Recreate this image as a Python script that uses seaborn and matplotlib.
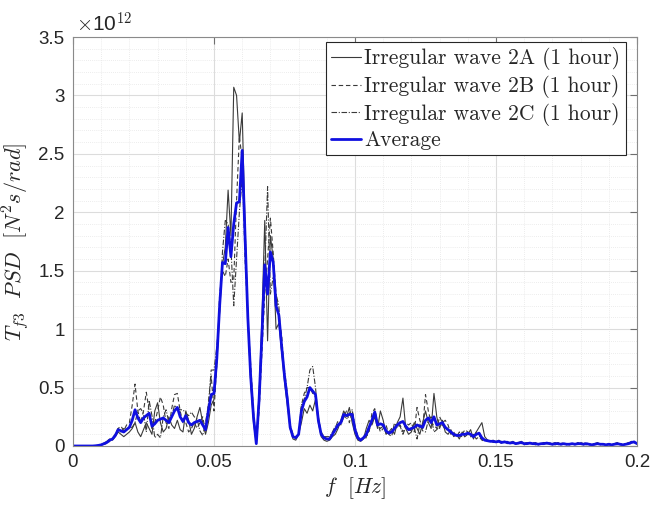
import numpy as np
import pandas as pd
import matplotlib
matplotlib.use("Agg")
import matplotlib.pyplot as plt
import seaborn as sns
from matplotlib.ticker import MultipleLocator, FuncFormatter

# frequency grid [Hz] (0.001 Hz resolution)
freq = np.round(np.arange(0, 0.2001, 0.001), 4)

# PSD values in units of 1e12 N^2 s/rad
wave_2a = [
    0, 0, 0, 0, 0, 0, 0, 0, 0.003, 0.006,
    0.012, 0.025, 0.04, 0.06, 0.05, 0.08, 0.12, 0.1, 0.08, 0.1,
    0.12, 0.15, 0.2, 0.12, 0.08, 0.14, 0.2, 0.15, 0.1, 0.3,
    0.37, 0.2, 0.12, 0.15, 0.25, 0.18, 0.15, 0.22, 0.14, 0.12,
    0.3, 0.22, 0.1, 0.15, 0.25, 0.33, 0.2, 0.1, 0.2, 0.35,
    0.4, 0.7, 1.15, 1.55, 1.7, 2.19, 1.8, 3.07, 3.0, 2.6,
    2.85, 1.9, 1.1, 0.55, 0.2, 0.02, 0.45, 1.1, 1.93, 0.9,
    1.8, 1.6, 1.0, 1.05, 0.8, 0.55, 0.35, 0.15, 0.06, 0.05,
    0.1, 0.2, 0.32, 0.28, 0.35, 0.3, 0.4, 0.2, 0.08, 0.05,
    0.04, 0.05, 0.08, 0.1, 0.15, 0.22, 0.3, 0.25, 0.33, 0.2,
    0.1, 0.05, 0.04, 0.06, 0.15, 0.22, 0.18, 0.25, 0.15, 0.3,
    0.22, 0.1, 0.12, 0.15, 0.1, 0.2, 0.25, 0.41, 0.15, 0.1,
    0.12, 0.2, 0.15, 0.1, 0.2, 0.3, 0.2, 0.15, 0.45, 0.25,
    0.15, 0.22, 0.12, 0.1, 0.14, 0.08, 0.1, 0.06, 0.12, 0.08,
    0.1, 0.14, 0.06, 0.12, 0.16, 0.2, 0.08, 0.05, 0.04, 0.05,
    0.03, 0.05, 0.03, 0.04, 0.02, 0.03, 0.04, 0.02, 0.03, 0.04,
    0.02, 0.03, 0.02, 0.02, 0.03, 0.01, 0.02, 0.03, 0.02, 0.02,
    0.01, 0.02, 0.03, 0.01, 0.02, 0.02, 0.01, 0.02, 0.01, 0.03,
    0.02, 0.01, 0.02, 0.02, 0.01, 0.02, 0.03, 0.01, 0.02, 0.01,
    0.02, 0.01, 0.02, 0.03, 0.01, 0.01, 0.02, 0.02, 0.04, 0.03,
    0.02,
]
wave_2b = [
    0, 0, 0, 0, 0, 0, 0, 0, 0.001, 0.004,
    0.008, 0.015, 0.02, 0.04, 0.07, 0.1, 0.15, 0.17, 0.13, 0.18,
    0.2, 0.35, 0.53, 0.3, 0.2, 0.3, 0.46, 0.3, 0.15, 0.2,
    0.3, 0.42, 0.35, 0.2, 0.15, 0.32, 0.44, 0.45, 0.3, 0.2,
    0.2, 0.12, 0.15, 0.2, 0.15, 0.2, 0.25, 0.12, 0.35, 0.6,
    0.3, 0.7, 1.3, 1.5, 1.45, 1.6, 1.4, 1.42, 2.1, 2.65,
    2.45, 1.6, 1.1, 0.7, 0.3, 0.03, 0.3, 0.8, 1.3, 1.6,
    1.95, 1.65, 1.3, 1.1, 0.95, 0.6, 0.4, 0.18, 0.1, 0.08,
    0.1, 0.35, 0.45, 0.5, 0.5, 0.45, 0.42, 0.25, 0.12, 0.08,
    0.06, 0.05, 0.1, 0.15, 0.22, 0.18, 0.25, 0.3, 0.2, 0.3,
    0.15, 0.08, 0.05, 0.08, 0.08, 0.12, 0.28, 0.32, 0.2, 0.12,
    0.15, 0.18, 0.1, 0.08, 0.2, 0.15, 0.18, 0.12, 0.2, 0.18,
    0.2, 0.12, 0.33, 0.22, 0.15, 0.44, 0.3, 0.2, 0.18, 0.15,
    0.25, 0.2, 0.22, 0.18, 0.1, 0.12, 0.08, 0.12, 0.1, 0.14,
    0.12, 0.08, 0.1, 0.06, 0.08, 0.05, 0.04, 0.05, 0.04, 0.03,
    0.04, 0.03, 0.04, 0.03, 0.04, 0.02, 0.03, 0.02, 0.03, 0.02,
    0.03, 0.02, 0.03, 0.02, 0.01, 0.02, 0.02, 0.01, 0.03, 0.02,
    0.02, 0.01, 0.02, 0.02, 0.03, 0.01, 0.02, 0.02, 0.02, 0.01,
    0.02, 0.02, 0.01, 0.02, 0.01, 0.01, 0.02, 0.02, 0.01, 0.01,
    0.01, 0.01, 0.02, 0.01, 0.02, 0.01, 0.01, 0.02, 0.02, 0.03,
    0.02,
]
wave_2c = [
    0, 0, 0, 0, 0, 0, 0, 0, 0.002, 0.005,
    0.01, 0.02, 0.03, 0.05, 0.06, 0.09, 0.15, 0.12, 0.15, 0.14,
    0.16, 0.16, 0.2, 0.3, 0.32, 0.28, 0.12, 0.39, 0.26, 0.07,
    0.1, 0.07, 0.25, 0.31, 0.2, 0.25, 0.35, 0.32, 0.31, 0.31,
    0.28, 0.26, 0.29, 0.25, 0.23, 0.13, 0.09, 0.2, 0.35, 0.65,
    0.65, 0.85, 1.15, 1.66, 1.93, 1.9, 1.7, 1.2, 1.6, 2.0,
    2.3, 1.9, 1.1, 0.55, 0.25, 0.02, 0.45, 1.0, 1.5, 2.22,
    1.3, 1.45, 1.3, 1.2, 0.8, 0.65, 0.45, 0.15, 0.08, 0.08,
    0.1, 0.35, 0.4, 0.5, 0.65, 0.68, 0.5, 0.22, 0.1, 0.08,
    0.08, 0.08, 0.12, 0.17, 0.17, 0.2, 0.26, 0.23, 0.28, 0.31,
    0.17, 0.08, 0.06, 0.07, 0.07, 0.14, 0.2, 0.3, 0.19, 0.15,
    0.17, 0.11, 0.11, 0.13, 0.15, 0.19, 0.17, 0.1, 0.16, 0.14,
    0.13, 0.16, 0.06, 0.19, 0.13, 0.12, 0.22, 0.25, 0.12, 0.14,
    0.17, 0.18, 0.14, 0.14, 0.12, 0.1, 0.09, 0.09, 0.08, 0.08,
    0.11, 0.08, 0.08, 0.12, 0.09, 0.06, 0.05, 0.04, 0.04, 0.04,
    0.04, 0.04, 0.02, 0.04, 0.03, 0.03, 0.02, 0.02, 0.02, 0.03,
    0.01, 0.02, 0.02, 0.03, 0.02, 0.02, 0.02, 0.03, 0.02, 0.03,
    0.02, 0.03, 0.01, 0.02, 0.02, 0.02, 0.02, 0.02, 0.02, 0.02,
    0.03, 0.02, 0.03, 0.01, 0.01, 0.02, 0.01, 0.02, 0.02, 0.01,
    0.02, 0.01, 0.01, 0.02, 0.02, 0.01, 0.02, 0.03, 0.03, 0.04,
    0.02,
]
average = [
    0, 0, 0, 0, 0, 0, 0, 0, 0.002, 0.005,
    0.01, 0.02, 0.03, 0.05, 0.06, 0.09, 0.14, 0.13, 0.12, 0.14,
    0.16, 0.22, 0.31, 0.24, 0.2, 0.24, 0.26, 0.28, 0.17, 0.19,
    0.22, 0.23, 0.24, 0.22, 0.2, 0.25, 0.3, 0.33, 0.25, 0.21,
    0.26, 0.2, 0.18, 0.2, 0.21, 0.22, 0.18, 0.14, 0.3, 0.44,
    0.45, 0.75, 1.2, 1.57, 1.56, 1.87, 1.62, 1.9, 2.08, 2.09,
    2.53, 1.8, 1.1, 0.6, 0.25, 0.02, 0.4, 0.95, 1.55, 1.3,
    1.66, 1.57, 1.2, 1.12, 0.85, 0.6, 0.4, 0.16, 0.08, 0.07,
    0.1, 0.3, 0.38, 0.42, 0.5, 0.47, 0.44, 0.22, 0.1, 0.07,
    0.06, 0.06, 0.1, 0.14, 0.18, 0.2, 0.27, 0.26, 0.27, 0.27,
    0.14, 0.07, 0.05, 0.07, 0.1, 0.16, 0.22, 0.29, 0.18, 0.19,
    0.18, 0.13, 0.11, 0.12, 0.15, 0.18, 0.2, 0.21, 0.17, 0.14,
    0.15, 0.16, 0.18, 0.17, 0.16, 0.22, 0.24, 0.2, 0.25, 0.18,
    0.19, 0.2, 0.16, 0.14, 0.12, 0.1, 0.09, 0.09, 0.1, 0.1,
    0.11, 0.1, 0.08, 0.1, 0.11, 0.07, 0.05, 0.045, 0.04, 0.04,
    0.035, 0.04, 0.03, 0.035, 0.03, 0.025, 0.03, 0.02, 0.025, 0.03,
    0.02, 0.02, 0.025, 0.02, 0.02, 0.015, 0.02, 0.02, 0.025, 0.02,
    0.015, 0.02, 0.02, 0.015, 0.02, 0.015, 0.015, 0.02, 0.015, 0.02,
    0.02, 0.015, 0.02, 0.015, 0.01, 0.015, 0.02, 0.015, 0.015, 0.01,
    0.015, 0.01, 0.015, 0.02, 0.015, 0.01, 0.015, 0.02, 0.03, 0.035,
    0.02,
]

labels = ["Irregular wave 2A (1 hour)", "Irregular wave 2B (1 hour)",
          "Irregular wave 2C (1 hour)", "Average"]
x_ticks = [0, 0.05, 0.1, 0.15, 0.2]
y_ticks = [0, 0.5, 1, 1.5, 2, 2.5, 3, 3.5]

sns.set_style("white")
plt.rcParams["font.family"] = ["Liberation Sans", "DejaVu Sans"]
plt.rcParams["mathtext.fontset"] = "cm"

fig = plt.figure(figsize=(6.51, 5.09), dpi=100)
ax = fig.add_axes([73 / 651, 1 - 446 / 509, (637 - 73) / 651, (446 - 37) / 509])

df = pd.DataFrame({"f": freq, "A": wave_2a, "B": wave_2b, "C": wave_2c, "avg": average})

sns.lineplot(data=df, x="f", y="A", ax=ax, color="#3a3a3a", lw=0.8,
             label=labels[0])
sns.lineplot(data=df, x="f", y="B", ax=ax, color="#3a3a3a", lw=0.8,
             linestyle=(0, (4, 2.5)), label=labels[1])
sns.lineplot(data=df, x="f", y="C", ax=ax, color="#3a3a3a", lw=0.8,
             linestyle=(0, (5, 1.5, 1, 1.5)), label=labels[2])
sns.lineplot(data=df, x="f", y="avg", ax=ax, color="#1010e0", lw=2.0,
             label=labels[3])

ax.set_xlim(0, 0.2)
ax.set_ylim(0, 3.5)
ax.set_xticks(x_ticks)
ax.set_yticks(y_ticks)
fmt = FuncFormatter(lambda v, p: f"{v:g}")
ax.xaxis.set_major_formatter(fmt)
ax.yaxis.set_major_formatter(fmt)
ax.xaxis.set_minor_locator(MultipleLocator(0.01))
ax.yaxis.set_minor_locator(MultipleLocator(0.1))

ax.grid(which="major", color="#dcdcdc", lw=0.8, ls="-")
ax.grid(which="minor", color="#e6e6e6", lw=0.6, ls=(0, (1, 1.5)))
ax.set_axisbelow(True)

ax.tick_params(which="major", direction="in", length=5, width=0.8,
               color="#6e6e6e", top=True, right=True, labelsize=13.5,
               labelcolor="#262626", pad=6)
ax.tick_params(which="minor", length=0, top=True, right=True)
for s in ax.spines.values():
    s.set_color("#8a8a8a")
    s.set_linewidth(0.8)

ax.set_xlabel(r"$f\ \ [Hz]$", fontsize=15.5, color="#262626", labelpad=3)
ax.set_ylabel(r"$T_{f3}\ \ PSD\ \ [N^2s/rad]$", fontsize=16, color="#262626",
              labelpad=5)

ax.text(0.005, 1.003, r"$\times$10$^{12}$", transform=ax.transAxes,
        fontsize=15, color="#262626", ha="left", va="bottom",
        fontfamily="Liberation Sans")

leg = ax.legend(loc="upper right", bbox_to_anchor=(1 - 11 / 564, 1 - 5 / 409),
                borderaxespad=0, frameon=True, fancybox=False,
                edgecolor="#262626", framealpha=1, handlelength=1.4,
                handletextpad=0.15, borderpad=0.25, labelspacing=0.22,
                prop={"family": "cmr10", "size": 15.5})
leg.get_frame().set_linewidth(0.8)

fig.savefig("out.png", dpi=100)
